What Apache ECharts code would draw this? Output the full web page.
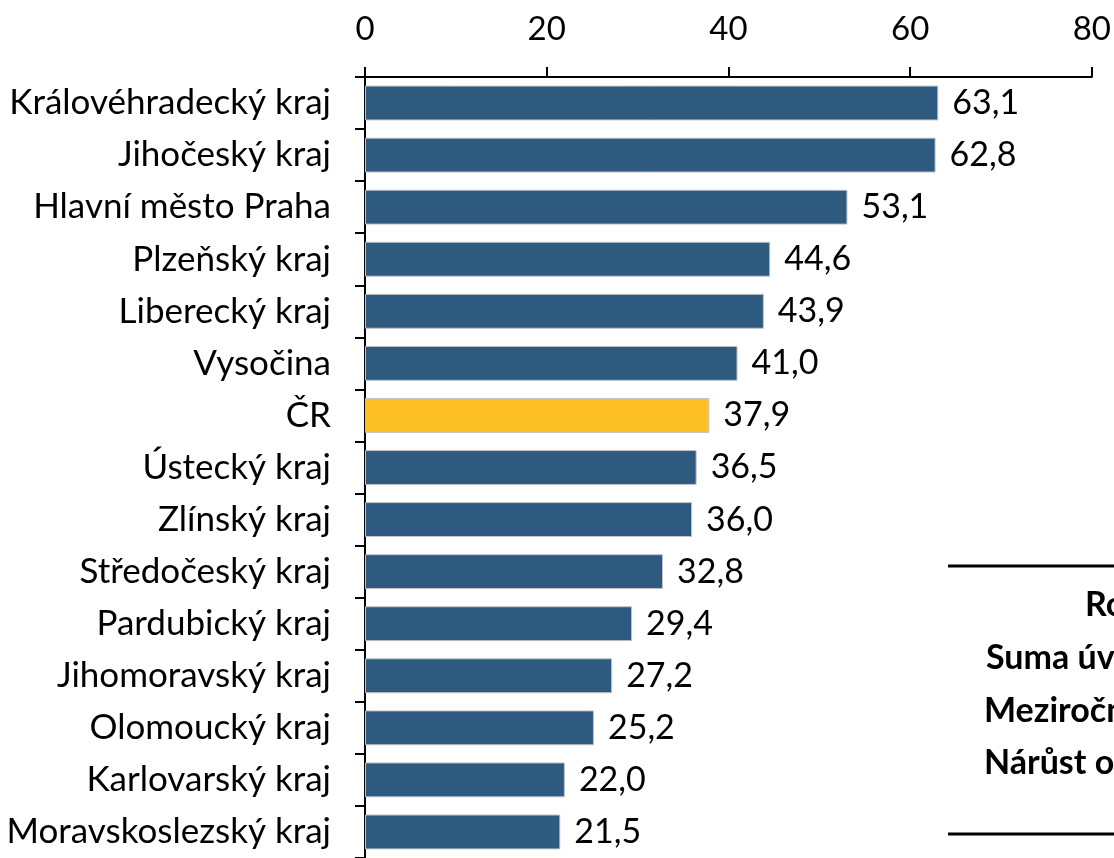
<!DOCTYPE html>
<html>
<head>
<meta charset="utf-8">
<script src="https://cdn.jsdelivr.net/npm/echarts@6/dist/echarts.min.js"></script>
<style>
  html, body { margin: 0; padding: 0; background: #fff; }
  #chart { width: 1114px; height: 858px; }
</style>
</head>
<body>
<div id="chart"></div>
<script>
// kraje shora dolů
var regions = ['Královéhradecký kraj', 'Jihočeský kraj', 'Hlavní město Praha', 'Plzeňský kraj',
  'Liberecký kraj', 'Vysočina', 'ČR', 'Ústecký kraj', 'Zlínský kraj', 'Středočeský kraj',
  'Pardubický kraj', 'Jihomoravský kraj', 'Olomoucký kraj', 'Karlovarský kraj', 'Moravskoslezský kraj'];
var values = [63.1, 62.8, 53.1, 44.6, 43.9, 41.0, 37.9, 36.5, 36.0, 32.8, 29.4, 27.2, 25.2, 22.0, 21.5];
var highlight = 'ČR';
var xTicks = [0, 20, 40, 60, 80];
// useknutá tabulka vpravo dole
var tableRows = ['Ro', 'Suma úv', 'Meziročn', 'Nárůst o'];

var font = 'Lato, "Open Sans", sans-serif';
var myChart = echarts.init(document.getElementById('chart'));

var graphics = [
  { type: 'line', shape: { x1: 948, y1: 566, x2: 1114, y2: 566 }, style: { stroke: '#000', lineWidth: 3 } },
  { type: 'line', shape: { x1: 948, y1: 834, x2: 1114, y2: 834 }, style: { stroke: '#000', lineWidth: 3 } }
];
var rowX = [1085, 986, 984, 984];
var rowY = [605, 658, 711, 763];
tableRows.forEach(function (t, i) {
  graphics.push({
    type: 'text', x: rowX[i], y: rowY[i],
    style: { text: t, font: 'bold 34px ' + font, fill: '#000', textVerticalAlign: 'middle' }
  });
});

myChart.setOption({
  animation: false,
  grid: { left: 365, top: 77, right: 22, height: 783, containLabel: false },
  xAxis: {
    type: 'value',
    position: 'top',
    min: xTicks[0],
    max: xTicks[xTicks.length - 1],
    interval: 20,
    axisLine: { show: true, lineStyle: { color: '#000', width: 2 } },
    axisTick: { show: true, inside: false, length: 10, lineStyle: { color: '#000', width: 2 } },
    axisLabel: { fontSize: 33, color: '#000', fontFamily: font, margin: 31 },
    splitLine: { show: false }
  },
  yAxis: {
    type: 'category',
    inverse: true,
    data: regions,
    axisLine: { show: true, lineStyle: { color: '#000', width: 2 } },
    axisTick: { show: true, inside: false, length: 10, lineStyle: { color: '#000', width: 2 } },
    axisLabel: { fontSize: 35, color: '#000', fontFamily: font, margin: 34 }
  },
  series: [{
    type: 'bar',
    barCategoryGap: '33%',
    data: values.map(function (v, i) {
      return {
        value: v,
        itemStyle: { color: regions[i] === highlight ? '#FDC024' : '#2E5A80' }
      };
    }),
    itemStyle: { borderColor: '#C0C4C8', borderWidth: 1 },
    label: {
      show: true,
      position: 'right',
      distance: 14,
      fontSize: 34,
      color: '#000',
      fontFamily: font,
      formatter: function (p) { return p.value.toFixed(1).replace('.', ','); }
    }
  }],
  graphic: graphics
});
window.addEventListener('resize', function () { myChart.resize(); });
</script>
</body>
</html>
